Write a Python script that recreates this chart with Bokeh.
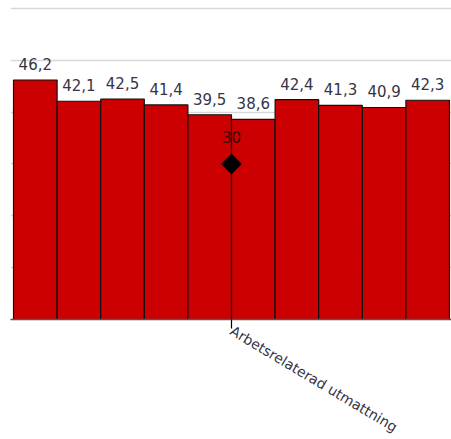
import numpy as np
from bokeh.plotting import figure
from bokeh.models import ColumnDataSource, Range1d, FixedTicker
from bokeh.core.properties import value
from bokeh.embed import file_html
from bokeh.resources import INLINE

# data
bar_values = [46.2, 42.1, 42.5, 41.4, 39.5, 38.6, 42.4, 41.3, 40.9, 42.3]
bar_labels = ["46,2", "42,1", "42,5", "41,4", "39,5", "38,6", "42,4", "41,3", "40,9", "42,3"]
category = ["Arbetsrelaterad utmattning"]
marker_value = [30]
marker_label = ["30"]
grid_ticks = [10, 20, 30, 40, 50, 60]

n = len(bar_values)
xs = [i + 0.5 for i in range(n)]
src = ColumnDataSource(dict(x=xs, top=bar_values, lab=bar_labels))

p = figure(frame_width=441, frame_height=319, output_backend="svg", toolbar_location=None,
           x_range=Range1d(-0.069, 10.046), y_range=Range1d(0, 61.54),
           min_border_left=10, min_border_right=0, min_border_top=0,
           min_border_bottom=100)
p.outline_line_color = None
p.background_fill_color = "white"
p.border_fill_color = "white"

p.vbar(x="x", top="top", bottom=0, width=1.0, source=src,
       fill_color="#CC0000", line_color="#111111", line_width=1.2)

p.text(x="x", y="top", text="lab", source=src, text_align="center",
       text_baseline="alphabetic", y_offset=-16,
       text_font=value("DejaVu Sans"), text_font_size="15px", text_color="#353545")

cx = n / 2
msrc = ColumnDataSource(dict(x=[cx], y=marker_value, lab=marker_label))
p.scatter(x="x", y="y", source=msrc, marker="square", angle=np.pi / 4, size=14,
          fill_color="black", line_color="black")
p.text(x="x", y="y", text="lab", source=msrc, text_align="center",
       text_baseline="alphabetic", y_offset=-27,
       text_font=value("DejaVu Sans"), text_font_size="15px", text_color="#3a0808")

# axes
p.yaxis.visible = False
p.ygrid.ticker = FixedTicker(ticks=grid_ticks)
p.ygrid.grid_line_color = "#d8d8d8"
p.ygrid.grid_line_width = 1.5
p.xgrid.visible = False

p.xaxis.ticker = FixedTicker(ticks=[cx])
p.xaxis.major_label_overrides = {cx: category[0]}
p.xaxis.major_label_orientation = -0.54
p.xaxis.minor_tick_line_color = None
p.xaxis.major_tick_in = 0
p.xaxis.major_tick_out = 9
p.xaxis.major_tick_line_color = "black"
p.xaxis.major_tick_line_width = 1.2
p.xaxis.axis_line_color = "#555555"
p.xaxis.axis_line_width = 1.5
p.xaxis.major_label_text_font = "DejaVu Sans"
p.xaxis.major_label_text_font_size = "14px"
p.xaxis.major_label_text_color = "#353545"
p.xaxis.major_label_standoff = 1

open("out.html", "w").write(file_html(p, INLINE))
